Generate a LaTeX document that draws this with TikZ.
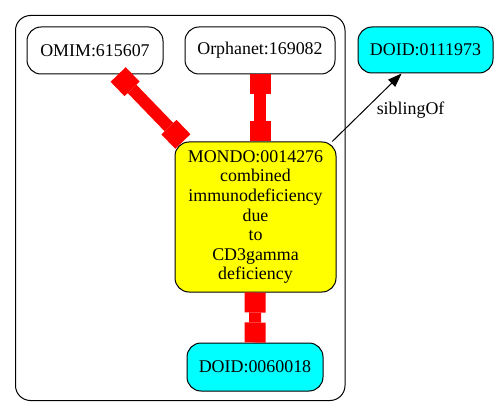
\documentclass[tikz,border=0pt]{standalone}
\usepackage{fontspec}
\setmainfont{Liberation Serif}
\usepackage{xcolor}
\usetikzlibrary{arrows.meta}
\definecolor{termcyan}{RGB}{0,255,255}
\definecolor{termyellow}{RGB}{255,255,0}
\definecolor{xrefred}{RGB}{255,0,0}
\begin{document}
\begin{tikzpicture}[x=1pt, y=-1pt,
	term/.style={draw=black, line width=1pt, rounded corners=14pt, inner sep=0pt, align=center, font=\fontsize{17.9}{19.6}\selectfont},
	xref/.style={draw=xrefred, line width=12pt, {Square[length=20pt,width=21pt,line width=0pt]}-{Square[length=20pt,width=21pt,line width=0pt]}}]
	\useasboundingbox (0,0) rectangle (498,417);
	\draw[line width=1pt, rounded corners=15pt] (15.5,15.5) rectangle (345,400.5);
	\node[term, minimum width=136pt, minimum height=47pt] (omim) at (95,50.5) {OMIM:615607};
	\node[term, minimum width=150pt, minimum height=47pt] (orphanet) at (260,50.5) {Orphanet:169082};
	\node[term, fill=termcyan, minimum width=135pt, minimum height=46pt] (doidsib) at (425.5,50) {DOID:0111973};
	\node[term, fill=termyellow, minimum width=161pt, minimum height=150pt] (mondo) at (255.5,217) {MONDO:0014276\\combined\\immunodeficiency\\due\\to\\CD3gamma\\deficiency};
	\node[term, fill=termcyan, minimum width=136pt, minimum height=48pt] (doideq) at (255,367) {DOID:0060018};
	\draw[xref] (omim) -- (mondo);
	\draw[xref] (orphanet.south) -- (orphanet.south |- mondo.north);
	\draw[xref] (mondo) -- (doideq);
	\draw[line width=1pt, -{Triangle[length=14pt,width=10pt]}] (mondo) -- (doidsib) node[pos=0.5, anchor=west, xshift=6pt, yshift=-3pt, font=\fontsize{17.9}{19.6}\selectfont] {siblingOf};
\end{tikzpicture}
\end{document}
